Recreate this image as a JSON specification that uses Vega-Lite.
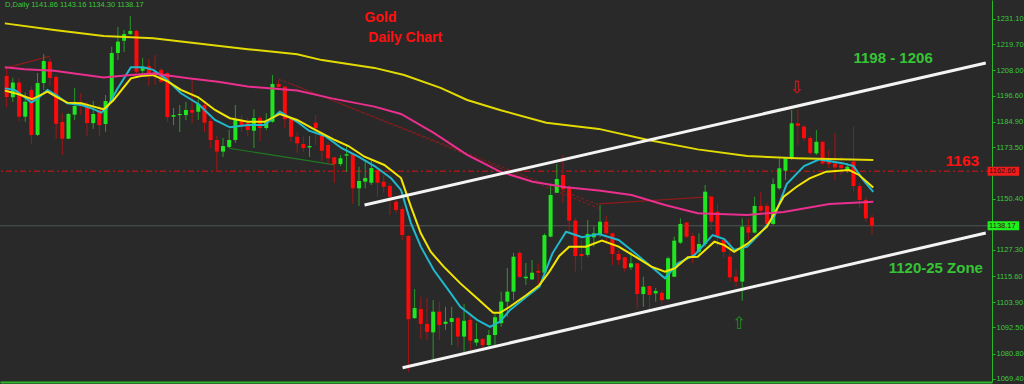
{
"$schema": "https://vega.github.io/schema/vega-lite/v6.json",
"width": 992, "height": 382,
"autosize": {"type": "none"},
"padding": {"left": 0, "top": 0, "right": 32, "bottom": 2},
"background": "#292929",
"view": {"stroke": null, "fill": "#292929"},
"config": {"font": "Liberation Sans"},
"resolve": {"scale": {"color": "independent"}, "axis": {"x": "independent", "y": "independent"}},
"datasets": {
"levels": [{"level": "resistance", "price": 1162.66}, {"level": "last", "price": 1138.17}],
"trend": [
{"line":"r1","idx":-0.3,"price":1208.9},{"line":"r1","idx":7.0,"price":1214.4},
{"line":"r2","idx":95.8,"price":1148.0},{"line":"r2","idx":114.2,"price":1151.3},
{"line":"g1","idx":36.0,"price":1173.0},{"line":"g1","idx":53.1,"price":1165.5}
],
"dashed": [
{"line":"d1","idx":44.0,"price":1204.0},{"line":"d1","idx":95.8,"price":1147.5},
{"line":"d2","idx":46.0,"price":1202.0},{"line":"d2","idx":95.8,"price":1146.0}
],
"channel": [
{"line":"upper","idx":57.9,"price":1147.5},{"line":"upper","idx":158.4,"price":1211.3},
{"line":"lower","idx":64.05,"price":1074.4},{"line":"lower","idx":158.4,"price":1134.9}
],
"bars": [
{"idx":0,"o":1205.5,"h":1209.1,"l":1191.5,"c":1196.0},
{"idx":1,"o":1195.9,"h":1204.6,"l":1193.8,"c":1202.5},
{"idx":2,"o":1202.5,"h":1204.6,"l":1185.2,"c":1187.2},
{"idx":3,"o":1187.2,"h":1198.0,"l":1184.9,"c":1193.9},
{"idx":4,"o":1199.2,"h":1200.7,"l":1174.9,"c":1179.0},
{"idx":5,"o":1179.0,"h":1206.8,"l":1178.5,"c":1202.3},
{"idx":6,"o":1202.3,"h":1215.3,"l":1199.2,"c":1212.2},
{"idx":7,"o":1211.9,"h":1213.5,"l":1201.0,"c":1204.6},
{"idx":8,"o":1205.0,"h":1205.9,"l":1177.2,"c":1184.0},
{"idx":9,"o":1184.8,"h":1188.8,"l":1170.0,"c":1177.3},
{"idx":10,"o":1177.3,"h":1188.8,"l":1177.0,"c":1188.4},
{"idx":11,"o":1188.1,"h":1200.1,"l":1185.7,"c":1192.0},
{"idx":12,"o":1193.3,"h":1197.8,"l":1187.9,"c":1192.0},
{"idx":13,"o":1191.7,"h":1193.9,"l":1178.5,"c":1184.3},
{"idx":14,"o":1184.3,"h":1194.2,"l":1181.7,"c":1188.4},
{"idx":15,"o":1190.2,"h":1192.4,"l":1178.5,"c":1183.4},
{"idx":16,"o":1183.9,"h":1196.9,"l":1180.4,"c":1194.2},
{"idx":17,"o":1193.9,"h":1218.6,"l":1193.5,"c":1215.8},
{"idx":18,"o":1215.8,"h":1227.5,"l":1212.6,"c":1220.9},
{"idx":19,"o":1221.3,"h":1226.1,"l":1216.2,"c":1224.3},
{"idx":20,"o":1224.3,"h":1232.5,"l":1223.9,"c":1225.7},
{"idx":21,"o":1225.7,"h":1226.1,"l":1206.8,"c":1207.4},
{"idx":22,"o":1207.8,"h":1213.5,"l":1205.9,"c":1209.6},
{"idx":23,"o":1209.9,"h":1213.1,"l":1201.0,"c":1205.9},
{"idx":24,"o":1207.3,"h":1214.9,"l":1201.4,"c":1206.4},
{"idx":25,"o":1208.2,"h":1209.1,"l":1202.3,"c":1202.9},
{"idx":26,"o":1206.8,"h":1207.4,"l":1184.8,"c":1187.0},
{"idx":27,"o":1187.2,"h":1191.1,"l":1183.4,"c":1187.9},
{"idx":28,"o":1187.9,"h":1192.4,"l":1180.3,"c":1188.4},
{"idx":29,"o":1187.9,"h":1193.9,"l":1185.7,"c":1190.2},
{"idx":30,"o":1190.2,"h":1203.7,"l":1184.3,"c":1189.0},
{"idx":31,"o":1189.4,"h":1195.6,"l":1185.7,"c":1192.9},
{"idx":32,"o":1192.4,"h":1193.3,"l":1180.3,"c":1184.5},
{"idx":33,"o":1185.2,"h":1186.6,"l":1173.1,"c":1176.7},
{"idx":34,"o":1176.7,"h":1178.5,"l":1162.3,"c":1171.5},
{"idx":35,"o":1171.5,"h":1177.6,"l":1169.1,"c":1174.0},
{"idx":36,"o":1173.6,"h":1181.2,"l":1173.1,"c":1176.7},
{"idx":37,"o":1176.7,"h":1192.4,"l":1175.4,"c":1186.1},
{"idx":38,"o":1185.7,"h":1187.9,"l":1180.4,"c":1183.4},
{"idx":39,"o":1184.3,"h":1186.6,"l":1178.5,"c":1181.2},
{"idx":40,"o":1180.9,"h":1190.6,"l":1173.1,"c":1186.6},
{"idx":41,"o":1186.6,"h":1187.5,"l":1176.3,"c":1182.1},
{"idx":42,"o":1182.1,"h":1188.8,"l":1181.2,"c":1184.9},
{"idx":43,"o":1184.9,"h":1205.9,"l":1184.5,"c":1201.9},
{"idx":44,"o":1201.9,"h":1203.7,"l":1199.2,"c":1200.5},
{"idx":45,"o":1200.7,"h":1200.9,"l":1182.1,"c":1186.1},
{"idx":46,"o":1186.1,"h":1187.2,"l":1175.9,"c":1178.2},
{"idx":47,"o":1178.2,"h":1180.4,"l":1170.9,"c":1175.2},
{"idx":48,"o":1174.9,"h":1178.2,"l":1171.5,"c":1173.1},
{"idx":49,"o":1173.4,"h":1178.5,"l":1169.1,"c":1174.0},
{"idx":50,"o":1184.5,"h":1187.9,"l":1174.5,"c":1182.0},
{"idx":51,"o":1178.5,"h":1180.4,"l":1167.0,"c":1171.9},
{"idx":52,"o":1174.5,"h":1175.9,"l":1166.0,"c":1168.5},
{"idx":53,"o":1168.9,"h":1169.2,"l":1157.4,"c":1165.9},
{"idx":54,"o":1165.9,"h":1170.0,"l":1165.0,"c":1168.5},
{"idx":55,"o":1169.7,"h":1174.5,"l":1162.5,"c":1170.3},
{"idx":56,"o":1170.4,"h":1170.9,"l":1148.0,"c":1155.0},
{"idx":57,"o":1155.0,"h":1164.7,"l":1147.1,"c":1158.3},
{"idx":58,"o":1158.0,"h":1167.7,"l":1155.0,"c":1159.6},
{"idx":59,"o":1157.5,"h":1167.7,"l":1156.5,"c":1164.1},
{"idx":60,"o":1163.2,"h":1164.7,"l":1151.2,"c":1157.5},
{"idx":61,"o":1158.0,"h":1161.0,"l":1153.0,"c":1155.7},
{"idx":62,"o":1156.1,"h":1157.4,"l":1143.0,"c":1151.2},
{"idx":63,"o":1149.0,"h":1149.8,"l":1143.9,"c":1145.3},
{"idx":64,"o":1145.7,"h":1146.7,"l":1131.8,"c":1134.0},
{"idx":65,"o":1133.6,"h":1133.9,"l":1072.6,"c":1096.2},
{"idx":66,"o":1096.7,"h":1109.8,"l":1096.3,"c":1101.2},
{"idx":67,"o":1100.8,"h":1106.3,"l":1087.3,"c":1094.1},
{"idx":68,"o":1094.1,"h":1105.7,"l":1086.9,"c":1090.5},
{"idx":69,"o":1090.3,"h":1104.8,"l":1078.3,"c":1099.6},
{"idx":70,"o":1099.6,"h":1104.1,"l":1086.9,"c":1093.6},
{"idx":71,"o":1094.1,"h":1101.8,"l":1091.4,"c":1095.1},
{"idx":72,"o":1095.0,"h":1101.8,"l":1084.6,"c":1096.7},
{"idx":73,"o":1096.7,"h":1097.3,"l":1083.9,"c":1088.4},
{"idx":74,"o":1088.4,"h":1103.0,"l":1081.6,"c":1095.5},
{"idx":75,"o":1095.9,"h":1098.1,"l":1082.4,"c":1086.6},
{"idx":76,"o":1085.7,"h":1094.6,"l":1084.2,"c":1087.3},
{"idx":77,"o":1087.3,"h":1087.8,"l":1082.8,"c":1084.6},
{"idx":78,"o":1084.6,"h":1091.4,"l":1083.9,"c":1089.1},
{"idx":79,"o":1089.1,"h":1099.0,"l":1084.6,"c":1097.1},
{"idx":80,"o":1094.4,"h":1108.6,"l":1092.8,"c":1104.1},
{"idx":81,"o":1104.1,"h":1119.2,"l":1097.3,"c":1108.6},
{"idx":82,"o":1108.6,"h":1126.0,"l":1104.8,"c":1124.3},
{"idx":83,"o":1126.0,"h":1127.0,"l":1114.7,"c":1115.2},
{"idx":84,"o":1114.6,"h":1121.5,"l":1111.6,"c":1115.3},
{"idx":85,"o":1114.1,"h":1122.8,"l":1113.8,"c":1117.1},
{"idx":86,"o":1117.9,"h":1121.3,"l":1111.6,"c":1117.1},
{"idx":87,"o":1117.1,"h":1134.8,"l":1116.8,"c":1134.0},
{"idx":88,"o":1133.3,"h":1156.5,"l":1133.0,"c":1152.0},
{"idx":89,"o":1153.0,"h":1165.9,"l":1152.9,"c":1159.2},
{"idx":90,"o":1161.0,"h":1170.0,"l":1148.4,"c":1154.6},
{"idx":91,"o":1155.6,"h":1156.5,"l":1134.9,"c":1140.5},
{"idx":92,"o":1140.5,"h":1141.7,"l":1117.6,"c":1124.6},
{"idx":93,"o":1125.5,"h":1131.8,"l":1118.0,"c":1124.6},
{"idx":94,"o":1125.1,"h":1140.8,"l":1124.3,"c":1134.5},
{"idx":95,"o":1133.0,"h":1137.8,"l":1128.8,"c":1134.8},
{"idx":96,"o":1134.5,"h":1147.5,"l":1133.0,"c":1140.0},
{"idx":97,"o":1140.0,"h":1142.6,"l":1130.4,"c":1134.8},
{"idx":98,"o":1134.8,"h":1135.0,"l":1120.6,"c":1125.5},
{"idx":99,"o":1125.5,"h":1127.3,"l":1120.6,"c":1122.8},
{"idx":100,"o":1124.0,"h":1124.3,"l":1117.6,"c":1119.1},
{"idx":101,"o":1119.5,"h":1126.5,"l":1118.3,"c":1121.3},
{"idx":102,"o":1121.3,"h":1121.5,"l":1101.1,"c":1107.5},
{"idx":103,"o":1107.5,"h":1115.3,"l":1101.8,"c":1110.8},
{"idx":104,"o":1111.1,"h":1111.3,"l":1099.0,"c":1107.1},
{"idx":105,"o":1107.8,"h":1110.2,"l":1104.1,"c":1108.9},
{"idx":106,"o":1108.1,"h":1109.3,"l":1102.6,"c":1104.8},
{"idx":107,"o":1105.2,"h":1124.3,"l":1104.8,"c":1123.6},
{"idx":108,"o":1115.3,"h":1133.3,"l":1115.0,"c":1131.5},
{"idx":109,"o":1130.6,"h":1141.5,"l":1130.0,"c":1139.0},
{"idx":110,"o":1139.6,"h":1140.0,"l":1132.6,"c":1133.3},
{"idx":111,"o":1133.6,"h":1134.8,"l":1121.3,"c":1125.1},
{"idx":112,"o":1126.5,"h":1134.8,"l":1124.3,"c":1130.0},
{"idx":113,"o":1130.0,"h":1156.5,"l":1128.8,"c":1153.5},
{"idx":114,"o":1151.2,"h":1151.6,"l":1136.3,"c":1140.0},
{"idx":115,"o":1144.5,"h":1148.3,"l":1128.8,"c":1133.3},
{"idx":116,"o":1131.8,"h":1132.1,"l":1124.0,"c":1126.4},
{"idx":117,"o":1124.3,"h":1131.8,"l":1113.1,"c":1115.0},
{"idx":118,"o":1115.3,"h":1118.3,"l":1110.8,"c":1113.1},
{"idx":119,"o":1113.1,"h":1141.5,"l":1104.5,"c":1137.8},
{"idx":120,"o":1137.8,"h":1141.5,"l":1131.8,"c":1135.1},
{"idx":121,"o":1135.1,"h":1151.2,"l":1134.8,"c":1147.1},
{"idx":122,"o":1147.1,"h":1153.5,"l":1143.0,"c":1145.0},
{"idx":123,"o":1147.1,"h":1148.3,"l":1137.8,"c":1139.0},
{"idx":124,"o":1139.0,"h":1159.5,"l":1138.6,"c":1156.9},
{"idx":125,"o":1155.0,"h":1168.5,"l":1154.3,"c":1164.0},
{"idx":126,"o":1162.9,"h":1168.6,"l":1158.7,"c":1168.5},
{"idx":127,"o":1168.5,"h":1190.2,"l":1167.7,"c":1184.2},
{"idx":128,"o":1184.2,"h":1190.5,"l":1174.5,"c":1183.1},
{"idx":129,"o":1182.7,"h":1183.4,"l":1176.3,"c":1177.5},
{"idx":130,"o":1177.6,"h":1178.5,"l":1170.0,"c":1170.9},
{"idx":131,"o":1170.7,"h":1181.2,"l":1170.0,"c":1175.9},
{"idx":132,"o":1175.9,"h":1176.3,"l":1165.5,"c":1166.2},
{"idx":133,"o":1167.0,"h":1172.2,"l":1164.1,"c":1165.9},
{"idx":134,"o":1166.2,"h":1179.9,"l":1158.7,"c":1164.4},
{"idx":135,"o":1165.5,"h":1169.2,"l":1161.0,"c":1164.1},
{"idx":136,"o":1163.2,"h":1166.4,"l":1161.9,"c":1164.7},
{"idx":137,"o":1167.0,"h":1182.7,"l":1153.5,"c":1156.0},
{"idx":138,"o":1156.0,"h":1157.4,"l":1146.2,"c":1149.8},
{"idx":139,"o":1149.8,"h":1151.1,"l":1139.9,"c":1141.5},
{"idx":140,"o":1141.86,"h":1143.16,"l":1134.30,"c":1138.17}
],
"ma": [
{"ma":"fast","idx":-0.3,"price":1199.9},{"ma":"fast","idx":1.3,"price":1199.2},{"ma":"fast","idx":2.9,"price":1195.9},{"ma":"fast","idx":4.0,"price":1193.5},{"ma":"fast","idx":5.0,"price":1195.4},{"ma":"fast","idx":6.6,"price":1199.2},{"ma":"fast","idx":8.2,"price":1196.5},{"ma":"fast","idx":9.8,"price":1193.2},{"ma":"fast","idx":12.1,"price":1192.4},{"ma":"fast","idx":13.7,"price":1191.0},{"ma":"fast","idx":15.3,"price":1189.0},{"ma":"fast","idx":16.2,"price":1191.0},{"ma":"fast","idx":17.8,"price":1199.2},{"ma":"fast","idx":20.1,"price":1209.4},{"ma":"fast","idx":22.1,"price":1209.4},{"ma":"fast","idx":23.7,"price":1208.2},{"ma":"fast","idx":25.7,"price":1204.4},{"ma":"fast","idx":28.2,"price":1197.7},{"ma":"fast","idx":31.0,"price":1192.9},{"ma":"fast","idx":33.7,"price":1185.7},{"ma":"fast","idx":36.1,"price":1182.4},{"ma":"fast","idx":39.0,"price":1183.4},{"ma":"fast","idx":41.7,"price":1183.4},{"ma":"fast","idx":44.2,"price":1189.4},{"ma":"fast","idx":47.0,"price":1184.9},{"ma":"fast","idx":48.9,"price":1180.9},{"ma":"fast","idx":51.5,"price":1178.5},{"ma":"fast","idx":54.2,"price":1173.0},{"ma":"fast","idx":56.9,"price":1169.2},{"ma":"fast","idx":59.5,"price":1165.0},{"ma":"fast","idx":62.2,"price":1159.5},{"ma":"fast","idx":63.8,"price":1154.3},{"ma":"fast","idx":65.4,"price":1139.4},{"ma":"fast","idx":67.0,"price":1128.8},{"ma":"fast","idx":69.1,"price":1118.3},{"ma":"fast","idx":71.8,"price":1108.0},{"ma":"fast","idx":73.4,"price":1101.8},{"ma":"fast","idx":76.1,"price":1095.9},{"ma":"fast","idx":78.2,"price":1092.8},{"ma":"fast","idx":79.8,"price":1095.1},{"ma":"fast","idx":81.4,"price":1100.3},{"ma":"fast","idx":84.1,"price":1106.3},{"ma":"fast","idx":86.2,"price":1110.8},{"ma":"fast","idx":88.3,"price":1125.8},{"ma":"fast","idx":90.5,"price":1135.5},{"ma":"fast","idx":93.1,"price":1133.0},{"ma":"fast","idx":95.8,"price":1134.5},{"ma":"fast","idx":99.0,"price":1131.8},{"ma":"fast","idx":101.7,"price":1125.8},{"ma":"fast","idx":104.3,"price":1119.8},{"ma":"fast","idx":106.5,"price":1114.6},{"ma":"fast","idx":108.6,"price":1121.3},{"ma":"fast","idx":111.3,"price":1125.1},{"ma":"fast","idx":114.2,"price":1134.0},{"ma":"fast","idx":116.1,"price":1132.2},{"ma":"fast","idx":117.7,"price":1127.3},{"ma":"fast","idx":119.8,"price":1128.8},{"ma":"fast","idx":121.9,"price":1134.8},{"ma":"fast","idx":124.2,"price":1142.3},{"ma":"fast","idx":126.2,"price":1156.9},{"ma":"fast","idx":129.0,"price":1165.0},{"ma":"fast","idx":131.5,"price":1168.0},{"ma":"fast","idx":135.4,"price":1166.2},{"ma":"fast","idx":137.0,"price":1165.0},{"ma":"fast","idx":138.6,"price":1158.7},{"ma":"fast","idx":140.2,"price":1153.4},
{"ma":"slow","idx":-0.3,"price":1198.9},{"ma":"slow","idx":1.8,"price":1197.4},{"ma":"slow","idx":4.1,"price":1195.0},{"ma":"slow","idx":6.6,"price":1198.4},{"ma":"slow","idx":8.2,"price":1195.9},{"ma":"slow","idx":9.8,"price":1193.5},{"ma":"slow","idx":12.1,"price":1193.2},{"ma":"slow","idx":14.1,"price":1191.7},{"ma":"slow","idx":15.7,"price":1190.5},{"ma":"slow","idx":17.3,"price":1194.7},{"ma":"slow","idx":20.1,"price":1204.4},{"ma":"slow","idx":21.7,"price":1205.5},{"ma":"slow","idx":23.7,"price":1205.9},{"ma":"slow","idx":26.1,"price":1202.9},{"ma":"slow","idx":28.2,"price":1199.2},{"ma":"slow","idx":31.0,"price":1195.9},{"ma":"slow","idx":33.7,"price":1190.2},{"ma":"slow","idx":36.1,"price":1186.5},{"ma":"slow","idx":39.0,"price":1184.9},{"ma":"slow","idx":41.7,"price":1184.9},{"ma":"slow","idx":44.2,"price":1188.4},{"ma":"slow","idx":47.0,"price":1185.7},{"ma":"slow","idx":49.4,"price":1182.0},{"ma":"slow","idx":53.1,"price":1176.7},{"ma":"slow","idx":55.3,"price":1174.0},{"ma":"slow","idx":57.9,"price":1169.2},{"ma":"slow","idx":61.1,"price":1165.5},{"ma":"slow","idx":63.8,"price":1159.6},{"ma":"slow","idx":65.4,"price":1146.8},{"ma":"slow","idx":67.0,"price":1134.8},{"ma":"slow","idx":68.6,"price":1126.5},{"ma":"slow","idx":70.7,"price":1119.8},{"ma":"slow","idx":73.4,"price":1112.3},{"ma":"slow","idx":76.1,"price":1105.6},{"ma":"slow","idx":78.7,"price":1099.1},{"ma":"slow","idx":79.8,"price":1099.1},{"ma":"slow","idx":81.4,"price":1101.8},{"ma":"slow","idx":84.1,"price":1107.1},{"ma":"slow","idx":86.2,"price":1111.6},{"ma":"slow","idx":87.8,"price":1117.6},{"ma":"slow","idx":89.4,"price":1124.6},{"ma":"slow","idx":91.0,"price":1128.8},{"ma":"slow","idx":93.7,"price":1128.8},{"ma":"slow","idx":96.3,"price":1131.5},{"ma":"slow","idx":99.0,"price":1128.8},{"ma":"slow","idx":101.7,"price":1124.3},{"ma":"slow","idx":104.3,"price":1119.8},{"ma":"slow","idx":106.5,"price":1117.6},{"ma":"slow","idx":108.1,"price":1119.1},{"ma":"slow","idx":110.2,"price":1124.0},{"ma":"slow","idx":111.8,"price":1124.3},{"ma":"slow","idx":114.5,"price":1131.0},{"ma":"slow","idx":116.1,"price":1129.5},{"ma":"slow","idx":117.7,"price":1126.5},{"ma":"slow","idx":119.8,"price":1130.0},{"ma":"slow","idx":123.0,"price":1137.8},{"ma":"slow","idx":125.7,"price":1151.2},{"ma":"slow","idx":127.8,"price":1155.7},{"ma":"slow","idx":129.9,"price":1159.5},{"ma":"slow","idx":132.6,"price":1162.5},{"ma":"slow","idx":136.3,"price":1163.2},{"ma":"slow","idx":137.9,"price":1161.0},{"ma":"slow","idx":140.2,"price":1155.4},
{"ma":"mid","idx":-0.3,"price":1209.4},{"ma":"mid","idx":2.9,"price":1208.5},{"ma":"mid","idx":7.7,"price":1207.8},{"ma":"mid","idx":15.7,"price":1204.8},{"ma":"mid","idx":20.1,"price":1205.9},{"ma":"mid","idx":23.7,"price":1206.6},{"ma":"mid","idx":29.4,"price":1204.4},{"ma":"mid","idx":34.2,"price":1202.9},{"ma":"mid","idx":39.0,"price":1200.7},{"ma":"mid","idx":47.0,"price":1198.9},{"ma":"mid","idx":52.6,"price":1195.4},{"ma":"mid","idx":59.5,"price":1191.7},{"ma":"mid","idx":63.8,"price":1188.4},{"ma":"mid","idx":69.1,"price":1179.9},{"ma":"mid","idx":74.5,"price":1170.0},{"ma":"mid","idx":79.8,"price":1162.5},{"ma":"mid","idx":85.1,"price":1158.0},{"ma":"mid","idx":90.5,"price":1155.5},{"ma":"mid","idx":95.8,"price":1154.0},{"ma":"mid","idx":101.1,"price":1152.0},{"ma":"mid","idx":106.5,"price":1147.5},{"ma":"mid","idx":111.8,"price":1143.8},{"ma":"mid","idx":119.8,"price":1143.0},{"ma":"mid","idx":125.7,"price":1144.4},{"ma":"mid","idx":133.1,"price":1148.0},{"ma":"mid","idx":140.2,"price":1149.0},
{"ma":"long","idx":-0.3,"price":1229.1},{"ma":"long","idx":7.7,"price":1226.1},{"ma":"long","idx":15.7,"price":1223.4},{"ma":"long","idx":23.7,"price":1222.4},{"ma":"long","idx":31.0,"price":1220.1},{"ma":"long","idx":39.0,"price":1217.5},{"ma":"long","idx":47.0,"price":1215.2},{"ma":"long","idx":51.0,"price":1212.6},{"ma":"long","idx":59.5,"price":1209.1},{"ma":"long","idx":64.3,"price":1205.9},{"ma":"long","idx":70.2,"price":1200.1},{"ma":"long","idx":74.5,"price":1194.7},{"ma":"long","idx":79.8,"price":1190.2},{"ma":"long","idx":87.3,"price":1184.5},{"ma":"long","idx":95.8,"price":1181.7},{"ma":"long","idx":103.8,"price":1176.7},{"ma":"long","idx":111.8,"price":1172.5},{"ma":"long","idx":119.8,"price":1169.5},{"ma":"long","idx":127.8,"price":1168.5},{"ma":"long","idx":140.2,"price":1167.7}
]
},
"layer": [
{"data": {"name": "levels"}, "transform": [{"filter": "datum.level === 'resistance'"}],
 "mark": {"type": "rule", "color": "#a51818", "strokeWidth": 1.5, "strokeDash": [6, 3, 2, 3]},
 "encoding": {"y": {"field": "price", "type": "quantitative",
   "scale": {"domain": [1068.0, 1239.6], "nice": false, "zero": false},
   "axis": {"orient": "right", "values": [1231.1, 1219.7, 1208.0, 1196.6, 1184.9, 1173.5, 1150.4, 1127.3, 1115.6, 1103.9, 1092.5, 1080.8, 1069.4],
     "format": ".2f", "title": null, "grid": false, "domainColor": "#2ab82a", "domainWidth": 1, "tickColor": "#2ab82a", "tickSize": 3,
     "labelColor": "#3cc83c", "labelFont": "Liberation Sans", "labelFontSize": 7.5, "labelPadding": 1, "labelFlush": false, "labelOverlap": false, "labelBound": false}}}},
{"data": {"name": "levels"}, "transform": [{"filter": "datum.level === 'last'"}],
 "mark": {"type": "rule", "color": "#4e5557", "strokeWidth": 1},
 "encoding": {"y": {"field": "price", "type": "quantitative", "scale": {"domain": [1068.0, 1239.6], "nice": false, "zero": false}, "axis": null}}},
{"data": {"name": "trend"},
 "mark": {"type": "line", "strokeWidth": 1.2},
 "encoding": {
   "x": {"field": "idx", "type": "quantitative", "scale": {"domain": [-0.27, 158.6], "nice": false, "zero": false},
     "axis": {"orient": "bottom", "title": null, "labels": false, "ticks": false, "grid": false, "domainColor": "#2ab82a", "domainWidth": 2}},
   "y": {"field": "price", "type": "quantitative", "scale": {"domain": [1068.0, 1239.6], "nice": false, "zero": false}, "axis": null},
   "detail": {"field": "line"},
   "color": {"field": "line", "type": "nominal", "scale": {"domain": ["r1", "r2", "g1"], "range": ["#8e1b1b", "#8e1b1b", "#1f7a1f"]}, "legend": null}}},
{"data": {"name": "dashed"},
 "mark": {"type": "line", "strokeWidth": 1, "strokeDash": [3, 2], "color": "#8e1b1b"},
 "encoding": {
   "x": {"field": "idx", "type": "quantitative", "scale": {"domain": [-0.27, 158.6], "nice": false, "zero": false}, "axis": null},
   "y": {"field": "price", "type": "quantitative", "scale": {"domain": [1068.0, 1239.6], "nice": false, "zero": false}, "axis": null},
   "detail": {"field": "line"}}},
{"data": {"name": "bars"},
 "mark": {"type": "rule", "strokeWidth": 1},
 "encoding": {
   "x": {"field": "idx", "type": "quantitative", "scale": {"domain": [-0.27, 158.6], "nice": false, "zero": false}, "axis": null},
   "y": {"field": "l", "type": "quantitative", "scale": {"domain": [1068.0, 1239.6], "nice": false, "zero": false}, "axis": null},
   "y2": {"field": "h"},
   "color": {"condition": {"test": "datum.c < datum.o", "value": "#a01616"}, "value": "#2a9a2a"}}},
{"data": {"name": "bars"},
 "mark": {"type": "bar", "minBandSize": 1.5},
 "encoding": {
   "x": {"field": "idx", "type": "quantitative", "scale": {"domain": [-0.27, 158.6], "nice": false, "zero": false}, "axis": null},
   "y": {"field": "o", "type": "quantitative", "scale": {"domain": [1068.0, 1239.6], "nice": false, "zero": false}, "axis": null},
   "y2": {"field": "c"},
   "size": {"value": 4},
   "color": {"condition": {"test": "datum.c < datum.o", "value": "#ff0a0a"}, "value": "#1fe61f"}}},
{"data": {"name": "ma"},
 "mark": {"type": "line", "strokeWidth": 2},
 "encoding": {
   "x": {"field": "idx", "type": "quantitative", "scale": {"domain": [-0.27, 158.6], "nice": false, "zero": false}, "axis": null},
   "y": {"field": "price", "type": "quantitative", "scale": {"domain": [1068.0, 1239.6], "nice": false, "zero": false}, "axis": null},
   "detail": {"field": "ma"},
   "color": {"field": "ma", "type": "nominal", "scale": {"domain": ["fast", "slow", "mid", "long"], "range": ["#20b8cc", "#f2e600", "#ea2f8e", "#e2da00"]}, "legend": null}}},
{"data": {"name": "channel"},
 "mark": {"type": "line", "strokeWidth": 3, "color": "#f4f4f4"},
 "encoding": {
   "x": {"field": "idx", "type": "quantitative", "scale": {"domain": [-0.27, 158.6], "nice": false, "zero": false}, "axis": null},
   "y": {"field": "price", "type": "quantitative", "scale": {"domain": [1068.0, 1239.6], "nice": false, "zero": false}, "axis": null},
   "detail": {"field": "line"}}},
{"data": {"name": "levels"},
 "mark": {"type": "rect", "yOffset": -4.5, "y2Offset": 4.5},
 "encoding": {
   "x": {"datum": 158.7, "type": "quantitative", "scale": {"domain": [-0.27, 158.6], "nice": false, "zero": false}, "axis": null},
   "x2": {"datum": 163.8},
   "y": {"field": "price", "type": "quantitative", "scale": {"domain": [1068.0, 1239.6], "nice": false, "zero": false}, "axis": null},
   "y2": {"field": "price"},
   "color": {"field": "level", "type": "nominal", "scale": {"domain": ["resistance", "last"], "range": ["#f01c1c", "#1ef01e"]}, "legend": null}}},
{"data": {"name": "levels"},
 "mark": {"type": "text", "align": "left", "baseline": "middle", "fontSize": 7.5, "font": "Liberation Sans", "color": "#3a0c0c", "dx": 1.5},
 "encoding": {
   "x": {"datum": 158.7, "type": "quantitative", "axis": null},
   "y": {"field": "price", "type": "quantitative", "axis": null},
   "text": {"field": "price", "type": "quantitative", "format": ".2f"}}},
{"data": {"values": [{"note": "D,Daily  1141.86 1143.16 1134.30 1138.17"}]},
 "mark": {"type": "text", "align": "left", "baseline": "alphabetic", "fontSize": 7.5, "color": "#3cc83c"},
 "encoding": {"x": {"datum": -0.27, "type": "quantitative", "axis": null}, "y": {"datum": 1236.6, "type": "quantitative", "axis": null}, "text": {"field": "note"}}},
{"data": {"values": [{"note": "Gold"}]},
 "mark": {"type": "text", "align": "left", "baseline": "alphabetic", "fontSize": 14, "fontWeight": "bold", "color": "#ff1010"},
 "encoding": {"x": {"datum": 57.9, "type": "quantitative", "axis": null}, "y": {"datum": 1229.7, "type": "quantitative", "axis": null}, "text": {"field": "note"}}},
{"data": {"values": [{"note": "Daily Chart"}]},
 "mark": {"type": "text", "align": "left", "baseline": "alphabetic", "fontSize": 14, "fontWeight": "bold", "color": "#ff1010"},
 "encoding": {"x": {"datum": 58.5, "type": "quantitative", "axis": null}, "y": {"datum": 1220.7, "type": "quantitative", "axis": null}, "text": {"field": "note"}}},
{"data": {"values": [{"note": "1198 - 1206"}]},
 "mark": {"type": "text", "align": "left", "baseline": "alphabetic", "fontSize": 15, "fontWeight": "bold", "color": "#36c436"},
 "encoding": {"x": {"datum": 137.0, "type": "quantitative", "axis": null}, "y": {"datum": 1211.3, "type": "quantitative", "axis": null}, "text": {"field": "note"}}},
{"data": {"values": [{"note": "1163"}]},
 "mark": {"type": "text", "align": "left", "baseline": "alphabetic", "fontSize": 15.5, "fontWeight": "bold", "color": "#ff1010"},
 "encoding": {"x": {"datum": 151.9, "type": "quantitative", "axis": null}, "y": {"datum": 1165.0, "type": "quantitative", "axis": null}, "text": {"field": "note"}}},
{"data": {"values": [{"note": "1120-25 Zone"}]},
 "mark": {"type": "text", "align": "left", "baseline": "alphabetic", "fontSize": 15, "fontWeight": "bold", "color": "#36c436"},
 "encoding": {"x": {"datum": 142.7, "type": "quantitative", "axis": null}, "y": {"datum": 1117.0, "type": "quantitative", "axis": null}, "text": {"field": "note"}}},
{"data": {"values": [{"note": "⇩"}]},
 "mark": {"type": "text", "align": "center", "baseline": "middle", "fontSize": 17, "font": "DejaVu Sans", "color": "#e01414"},
 "encoding": {"x": {"datum": 127.8, "type": "quantitative", "axis": null}, "y": {"datum": 1200.1, "type": "quantitative", "axis": null}, "text": {"field": "note"}}},
{"data": {"values": [{"note": "⇧"}]},
 "mark": {"type": "text", "align": "center", "baseline": "middle", "fontSize": 17, "font": "DejaVu Sans", "color": "#1f8f1f"},
 "encoding": {"x": {"datum": 118.5, "type": "quantitative", "axis": null}, "y": {"datum": 1094.1, "type": "quantitative", "axis": null}, "text": {"field": "note"}}}
]
}
